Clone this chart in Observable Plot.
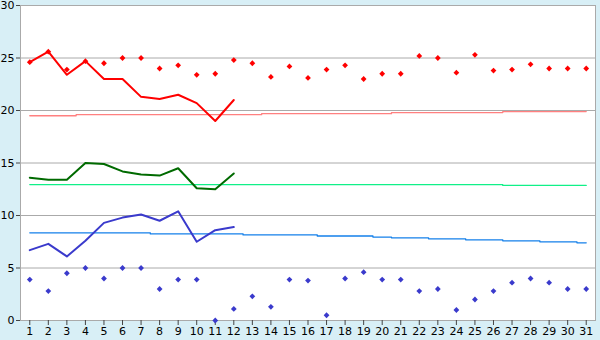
<!DOCTYPE html>
<html>
<head>
<meta charset="utf-8">
<script src="https://cdn.jsdelivr.net/npm/d3@7"></script>
<script src="https://cdn.jsdelivr.net/npm/@observablehq/plot@0.6"></script>
<style>
  html, body { margin: 0; padding: 0; background: #d8eff6; }
  #chart svg { display: block; }
</style>
</head>
<body>
<div id="chart"></div>
<script>
const days = [1,2,3,4,5,6,7,8,9,10,11,12,13,14,15,16,17,18,19,20,21,22,23,24,25,26,27,28,29,30,31];
const yTicks = [0,5,10,15,20,25,30];

// record highs (red diamonds)
const recordMax = [24.6,25.6,23.9,24.7,24.5,25.0,25.0,24.0,24.3,23.4,23.5,24.8,24.5,23.2,24.2,23.1,23.9,24.3,23.0,23.5,23.5,25.2,25.0,23.6,25.3,23.8,23.9,24.4,24.0,24.0,24.0];
// record lows (blue diamonds)
const recordMin = [3.9,2.8,4.5,5.0,4.0,5.0,5.0,3.0,3.9,3.9,0.0,1.1,2.3,1.3,3.9,3.8,0.5,4.0,4.6,3.9,3.9,2.8,3.0,1.0,2.0,2.8,3.6,4.0,3.6,3.0,3.0];
// observed (days 1-12)
const obsMax  = [24.6,25.6,23.4,24.7,23.0,23.0,21.3,21.1,21.5,20.7,19.0,21.0];
const obsMean = [13.6,13.4,13.4,15.0,14.9,14.2,13.9,13.8,14.5,12.6,12.5,14.0];
const obsMin  = [6.7,7.3,6.1,7.6,9.3,9.8,10.1,9.5,10.4,7.5,8.6,8.9];
// normals
const normMax  = [19.5,19.5,19.5,19.6,19.6,19.6,19.6,19.6,19.6,19.6,19.6,19.6,19.6,19.7,19.7,19.7,19.7,19.7,19.7,19.7,19.8,19.8,19.8,19.8,19.8,19.8,19.9,19.9,19.9,19.9,19.9];
const normMean = [12.95,12.95,12.95,12.95,12.95,12.95,12.95,12.95,12.95,12.95,12.95,12.95,12.95,12.95,12.95,12.95,12.95,12.95,12.95,12.95,12.95,12.95,12.95,12.95,12.95,12.95,12.86,12.86,12.86,12.86,12.86];
const normMin  = [8.35,8.35,8.35,8.35,8.35,8.35,8.35,8.25,8.25,8.25,8.25,8.25,8.15,8.15,8.15,8.15,8.05,8.05,8.05,7.95,7.87,7.87,7.78,7.78,7.68,7.68,7.59,7.59,7.49,7.49,7.4];

const series = (vals) => vals.map((v, i) => ({day: days[i], v}));

const chart = Plot.plot({
  width: 600,
  height: 340,
  marginLeft: 20,
  marginRight: 5,
  marginTop: 5,
  marginBottom: 20,
  style: {background: "#d8eff6", fontFamily: "DejaVu Sans", fontSize: "11px", color: "black"},
  x: {domain: [0.5, 31.5], ticks: days, tickFormat: d => d, tickSize: 5, tickPadding: 2, label: null},
  y: {domain: [0, 30], ticks: yTicks, tickSize: 4, tickPadding: 2, label: null},
  marks: [
    Plot.frame({fill: "white", stroke: "none"}),
    Plot.ruleY(yTicks, {stroke: "#aaaaaa", strokeWidth: 1}),
    Plot.frame({stroke: "#aaaaaa", strokeWidth: 1}),
    Plot.axisX({ticks: days, tickFormat: d => d, tickSize: 5, tickPadding: 2, stroke: "#444", label: null}),
    Plot.axisY({ticks: yTicks, tickSize: 4, tickPadding: 2, stroke: "#444", label: null}),
    Plot.line(series(normMax),  {x: "day", y: "v", curve: "step", stroke: "#ff8080", strokeWidth: 1.3}),
    Plot.line(series(normMean), {x: "day", y: "v", curve: "step", stroke: "#10f088", strokeWidth: 1.3}),
    Plot.line(series(normMin),  {x: "day", y: "v", curve: "step", stroke: "#1480ea", strokeWidth: 1.3}),
    Plot.line(series(obsMax),  {x: "day", y: "v", stroke: "#ff0000", strokeWidth: 2}),
    Plot.line(series(obsMean), {x: "day", y: "v", stroke: "#006a00", strokeWidth: 2}),
    Plot.line(series(obsMin),  {x: "day", y: "v", stroke: "#3a3acc", strokeWidth: 2}),
    Plot.dot(series(recordMax), {x: "day", y: "v", symbol: "diamond2", r: 2.6, fill: "#ff0000", stroke: "none"}),
    Plot.dot(series(recordMin), {x: "day", y: "v", symbol: "diamond2", r: 2.6, fill: "#3a3acc", stroke: "none"})
  ]
});
document.getElementById("chart").appendChild(chart);
</script>
</body>
</html>
